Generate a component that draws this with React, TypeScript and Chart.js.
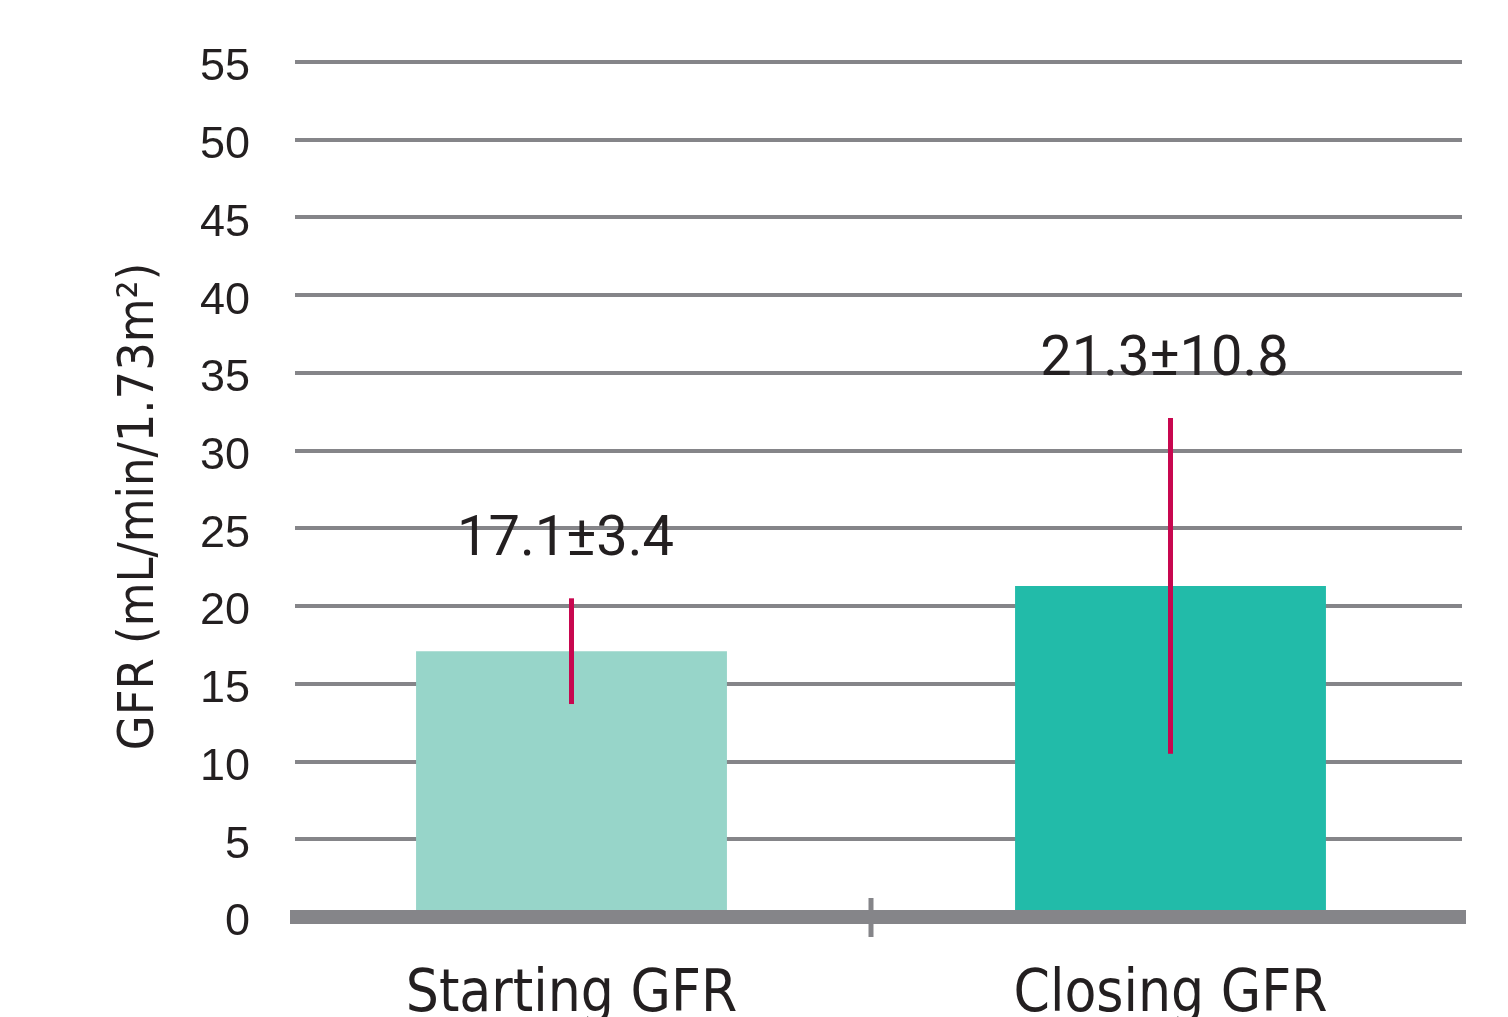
import React, { useEffect, useRef } from 'react';
import { Chart, registerables } from 'chart.js';

Chart.register(...registerables);

const categories = ['Starting GFR', 'Closing GFR'];
const means = [17.1, 21.3];
const sds = [3.4, 10.8];
const yMin = 0;
const yMax = 55;
const yStep = 5;
const yTitle = 'GFR (mL/min/1.73m\u00B2)';

const BAR_COLORS = ['#97d5c9', '#22bba9'];
const GRID = '#858589';
const ERR = '#c8074f';
const TEXT = '#231f20';
const COND = '"DejaVu Sans Condensed", "Liberation Sans Narrow", sans-serif';

const decor = {
  id: 'decor',
  beforeDatasetsDraw(chart: any) {
    const { ctx, chartArea, scales } = chart;
    const y = scales.y;
    ctx.save();
    ctx.strokeStyle = GRID;
    ctx.lineWidth = 4;
    y.ticks.forEach((t: any) => {
      if (t.value === 0) return;
      const py = Math.round(y.getPixelForValue(t.value));
      ctx.beginPath();
      ctx.moveTo(chartArea.left + 23, py);
      ctx.lineTo(chartArea.right - 8, py);
      ctx.stroke();
    });
    ctx.restore();

    ctx.save();
    ctx.translate(140, (chartArea.top + chartArea.bottom) / 2 + 17);
    ctx.rotate(-Math.PI / 2);
    ctx.font = '50px ' + COND;
    ctx.fillStyle = TEXT;
    ctx.textAlign = 'center';
    ctx.textBaseline = 'middle';
    ctx.fillText(yTitle, 0, 0);
    ctx.restore();
  },
  afterDatasetsDraw(chart: any) {
    const { ctx, chartArea, scales } = chart;
    const x = scales.x;
    const y = scales.y;
    ctx.save();
    const y0 = y.getPixelForValue(0);
    ctx.fillStyle = GRID;
    ctx.fillRect(chartArea.left + 18, y0 - 7, chartArea.right - 4 - (chartArea.left + 18), 14);
    const xm = (x.getPixelForValue(0) + x.getPixelForValue(1)) / 2;
    ctx.fillRect(xm - 2.5, y0 - 19, 5, 39);

    means.forEach((m, i) => {
      const px = x.getPixelForValue(i);
      const top = y.getPixelForValue(m + sds[i]);
      const bot = y.getPixelForValue(m - sds[i]);
      ctx.fillStyle = ERR;
      ctx.fillRect(px - 2.5, top, 5, bot - top);
      ctx.font = '56px Roboto';
      ctx.fillStyle = TEXT;
      ctx.textAlign = 'center';
      ctx.textBaseline = 'alphabetic';
      ctx.fillText(`${m}\u00B1${sds[i]}`, px - 6, top - 43);
    });
    ctx.restore();
  },
};

export default function App() {
  const ref = useRef<HTMLCanvasElement | null>(null);
  useEffect(() => {
    document.body.style.margin = '0';
    const canvas = ref.current;
    if (!canvas) return;
    const chart = new Chart(canvas, {
      type: 'bar',
      data: {
        labels: categories,
        datasets: [
          {
            data: means,
            backgroundColor: BAR_COLORS,
            borderWidth: 0,
            barPercentage: 0.519,
            categoryPercentage: 1,
          },
        ],
      },
      options: {
        responsive: false,
        animation: false,
        devicePixelRatio: 1,
        layout: { padding: { top: 62, right: 38, left: 0, bottom: 0 } },
        plugins: { legend: { display: false }, tooltip: { enabled: false } },
        scales: {
          x: {
            grid: { display: false, drawTicks: false },
            border: { display: false },
            ticks: {
              color: TEXT,
              font: { family: COND, size: 58 },
              padding: 44,
              maxRotation: 0,
            },
            afterFit: (s: any) => {
              s.height = 100;
            },
          },
          y: {
            min: yMin,
            max: yMax,
            grid: { display: false, drawTicks: false },
            border: { display: false },
            ticks: {
              stepSize: yStep,
              color: TEXT,
              font: { family: '"Liberation Sans", Arial, sans-serif', size: 45 },
              padding: 22,
              labelOffset: 6,
            },
            afterFit: (s: any) => {
              s.width = 272;
            },
          },
        },
      },
      plugins: [decor],
    });
    return () => chart.destroy();
  }, []);
  return (
    <div style={{ width: 1508, height: 1017, background: '#fff' }}>
      <canvas ref={ref} width={1508} height={1017} style={{ display: 'block' }} />
    </div>
  );
}
